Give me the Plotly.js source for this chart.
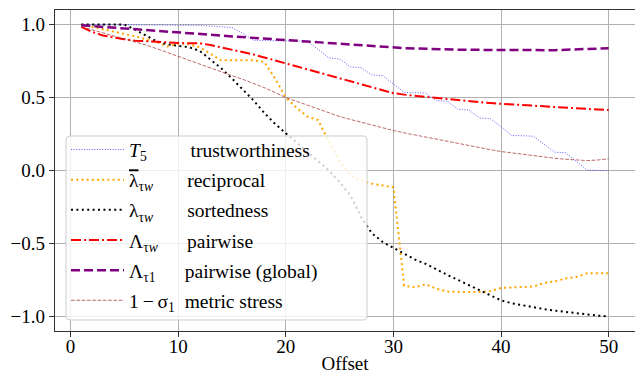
<!DOCTYPE html>
<html>
<head>
<meta charset="utf-8">
<script src="https://cdn.plot.ly/plotly-3.0.1.min.js"></script>
<style>html,body{margin:0;padding:0;background:#fff}</style>
</head>
<body>
<div id="chart" style="width:635px;height:374px"></div>
<script>
// Offsets 1..50
const offsets = Array.from({length: 50}, (_, i) => i + 1);

const trustworthiness = [
  1.0, 1.0, 1.0, 1.0, 1.0, 1.0, 1.0, 1.0, 1.0, 1.0,
  0.998, 0.995, 0.99, 0.985, 0.98, 0.94, 0.892, 0.891, 0.89, 0.889,
  0.888, 0.886, 0.83, 0.772, 0.765, 0.71, 0.705, 0.655, 0.65, 0.59,
  0.535, 0.533, 0.53, 0.478, 0.475, 0.42, 0.415, 0.36, 0.355, 0.3,
  0.24, 0.238, 0.235, 0.18, 0.125, 0.122, 0.06, 0.003, 0.0, 0.0
];
const reciprocal = [
  1.0, 0.985, 0.97, 0.955, 0.94, 0.92, 0.9, 0.88, 0.85, 0.87,
  0.865, 0.845, 0.8, 0.755, 0.755, 0.755, 0.755, 0.745, 0.63, 0.5,
  0.43, 0.37, 0.345, 0.2, 0.06, -0.03, -0.07, -0.09, -0.1, -0.115,
  -0.79, -0.8, -0.78, -0.81, -0.83, -0.833, -0.833, -0.833, -0.826, -0.805,
  -0.8, -0.8, -0.795, -0.77, -0.76, -0.74, -0.73, -0.705, -0.705, -0.705
];
const sortedness = [
  1.0, 1.0, 1.0, 1.0, 1.0, 0.965, 0.925, 0.885, 0.865, 0.855,
  0.845, 0.82, 0.76, 0.7, 0.63, 0.555, 0.48, 0.395, 0.32, 0.255,
  0.19, 0.125, 0.06, 0.0, -0.08, -0.17, -0.32, -0.43, -0.49, -0.53,
  -0.57, -0.61, -0.64, -0.68, -0.715, -0.75, -0.785, -0.825, -0.86, -0.89,
  -0.91, -0.925, -0.94, -0.95, -0.96, -0.97, -0.98, -0.99, -0.995, -1.0
];
const pairwise = [
  0.985, 0.95, 0.925, 0.91, 0.9, 0.89, 0.885, 0.88, 0.876, 0.874,
  0.872, 0.872, 0.86, 0.845, 0.83, 0.815, 0.795, 0.775, 0.755, 0.735,
  0.715, 0.695, 0.675, 0.655, 0.635, 0.615, 0.595, 0.575, 0.555, 0.53,
  0.52, 0.512, 0.505, 0.497, 0.489, 0.481, 0.474, 0.468, 0.462, 0.457,
  0.452, 0.447, 0.442, 0.438, 0.434, 0.43, 0.426, 0.422, 0.418, 0.414
];
const pairwiseGlobal = [
  0.995, 0.99, 0.985, 0.978, 0.972, 0.966, 0.961, 0.956, 0.952, 0.947,
  0.941, 0.936, 0.93, 0.925, 0.919, 0.914, 0.908, 0.902, 0.897, 0.891,
  0.886, 0.88, 0.875, 0.87, 0.865, 0.86, 0.856, 0.851, 0.846, 0.842,
  0.839, 0.836, 0.833, 0.831, 0.829, 0.828, 0.827, 0.826, 0.826, 0.825,
  0.825, 0.825, 0.825, 0.825, 0.825, 0.827, 0.829, 0.831, 0.834, 0.838
];
const metricStress = [
  0.985, 0.965, 0.945, 0.925, 0.905, 0.885, 0.86, 0.835, 0.808, 0.78,
  0.755, 0.728, 0.703, 0.677, 0.65, 0.625, 0.597, 0.568, 0.535, 0.5,
  0.474, 0.447, 0.42, 0.395, 0.37, 0.35, 0.33, 0.31, 0.292, 0.274,
  0.258, 0.243, 0.228, 0.213, 0.199, 0.185, 0.171, 0.157, 0.143, 0.13,
  0.12, 0.11, 0.1, 0.092, 0.084, 0.077, 0.071, 0.068, 0.072, 0.08
];

const NB = '\u00A0';
const pad = n => NB.repeat(n);
const labels = [
  '<i>T</i><sub>5</sub>' + pad(9) + 'trustworthiness',
  '<span style="text-decoration:overline">λ</span><sub>τ<i>w</i></sub>' + pad(7) + 'reciprocal',
  'λ<sub>τ<i>w</i></sub>' + pad(7) + 'sortedness',
  'Λ<sub>τ<i>w</i></sub>' + pad(6) + 'pairwise',
  'Λ<sub>τ1</sub>' + pad(6) + 'pairwise (global)',
  '1\u2009\u2212\u2009σ<sub>1</sub>' + pad(2) + 'metric stress'
];
const series = [trustworthiness, reciprocal, sortedness, pairwise, pairwiseGlobal, metricStress];
const styles = [
  {color: 'rgba(40,40,255,0.75)', width: 1, dash: '1px,1.6px'},
  {color: 'orange', width: 2, dash: '2px,3.2px'},
  {color: 'black', width: 2, dash: '2px,3.4px'},
  {color: 'red', width: 2, dash: '10px,3px,2px,3px'},
  {color: 'purple', width: 2.5, dash: '9px,4px'},
  {color: 'rgba(165,42,42,0.7)', width: 1, dash: '3.7px,1.6px'}
];

const traces = series.map((ys, i) => ({
  x: offsets, y: ys, type: 'scatter', mode: 'lines',
  name: labels[i], legendgroup: 'g' + i,
  line: styles[i]
}));

// Legend frame (rounded, semi-transparent) as a paper-space shape
const M = {l: 55, r: 0, t: 10, b: 43}, W = 635, H = 374;
const pw = W - M.l - M.r, ph = H - M.t - M.b;
const px = p => ((p - M.l) / pw).toFixed(5);
const py = p => ((H - M.b - p) / ph).toFixed(5);
function roundRect(x0, y0, x1, y1, r) {
  return 'M' + px(x0 + r) + ',' + py(y0) +
    ' L' + px(x1 - r) + ',' + py(y0) +
    ' Q' + px(x1) + ',' + py(y0) + ' ' + px(x1) + ',' + py(y0 + r) +
    ' L' + px(x1) + ',' + py(y1 - r) +
    ' Q' + px(x1) + ',' + py(y1) + ' ' + px(x1 - r) + ',' + py(y1) +
    ' L' + px(x0 + r) + ',' + py(y1) +
    ' Q' + px(x0) + ',' + py(y1) + ' ' + px(x0) + ',' + py(y1 - r) +
    ' L' + px(x0) + ',' + py(y0 + r) +
    ' Q' + px(x0) + ',' + py(y0) + ' ' + px(x0 + r) + ',' + py(y0) + ' Z';
}

const FONT = 'Liberation Serif, Times New Roman, serif';
const layout = {
  width: W, height: H,
  margin: M,
  paper_bgcolor: 'white', plot_bgcolor: 'white',
  font: {family: FONT, size: 19, color: 'black'},
  showlegend: true,
  xaxis: {
    range: [-1.45, 52.45], tick0: 0, dtick: 10,
    showgrid: true, gridcolor: '#b0b0b0', gridwidth: 1,
    zeroline: false, showline: true, linecolor: '#333', linewidth: 1.25, mirror: true,
    ticks: 'outside', ticklen: 5, tickcolor: '#333',
    ticklabelstandoff: -7,
    tickfont: {family: FONT, size: 19},
    title: {text: 'Offset', font: {family: FONT, size: 19}, standoff: 13}
  },
  yaxis: {
    range: [-1.1, 1.1], tick0: 0, dtick: 0.5, tickformat: '.1f',
    showgrid: true, gridcolor: '#b0b0b0', gridwidth: 1,
    zeroline: false, showline: true, linecolor: '#333', linewidth: 1.25, mirror: true,
    ticks: 'outside', ticklen: 5, tickcolor: '#333',
    tickfont: {family: FONT, size: 19}
  },
  shapes: [{
    type: 'path', xref: 'paper', yref: 'paper', layer: 'above',
    path: roundRect(66, 136, 367, 320, 4),
    fillcolor: 'rgba(255,255,255,0.8)', line: {color: '#cccccc', width: 1}
  }],
  legend: {
    x: 0.019, y: 0.625, xanchor: 'left', yanchor: 'top',
    bgcolor: 'rgba(0,0,0,0)', borderwidth: 0,
    font: {family: FONT, size: 19.5, color: 'black'},
    tracegroupgap: 1.8, itemwidth: 53
  }
};

Plotly.newPlot('chart', traces, layout, {staticPlot: true, displayModeBar: false});
</script>
</body>
</html>
